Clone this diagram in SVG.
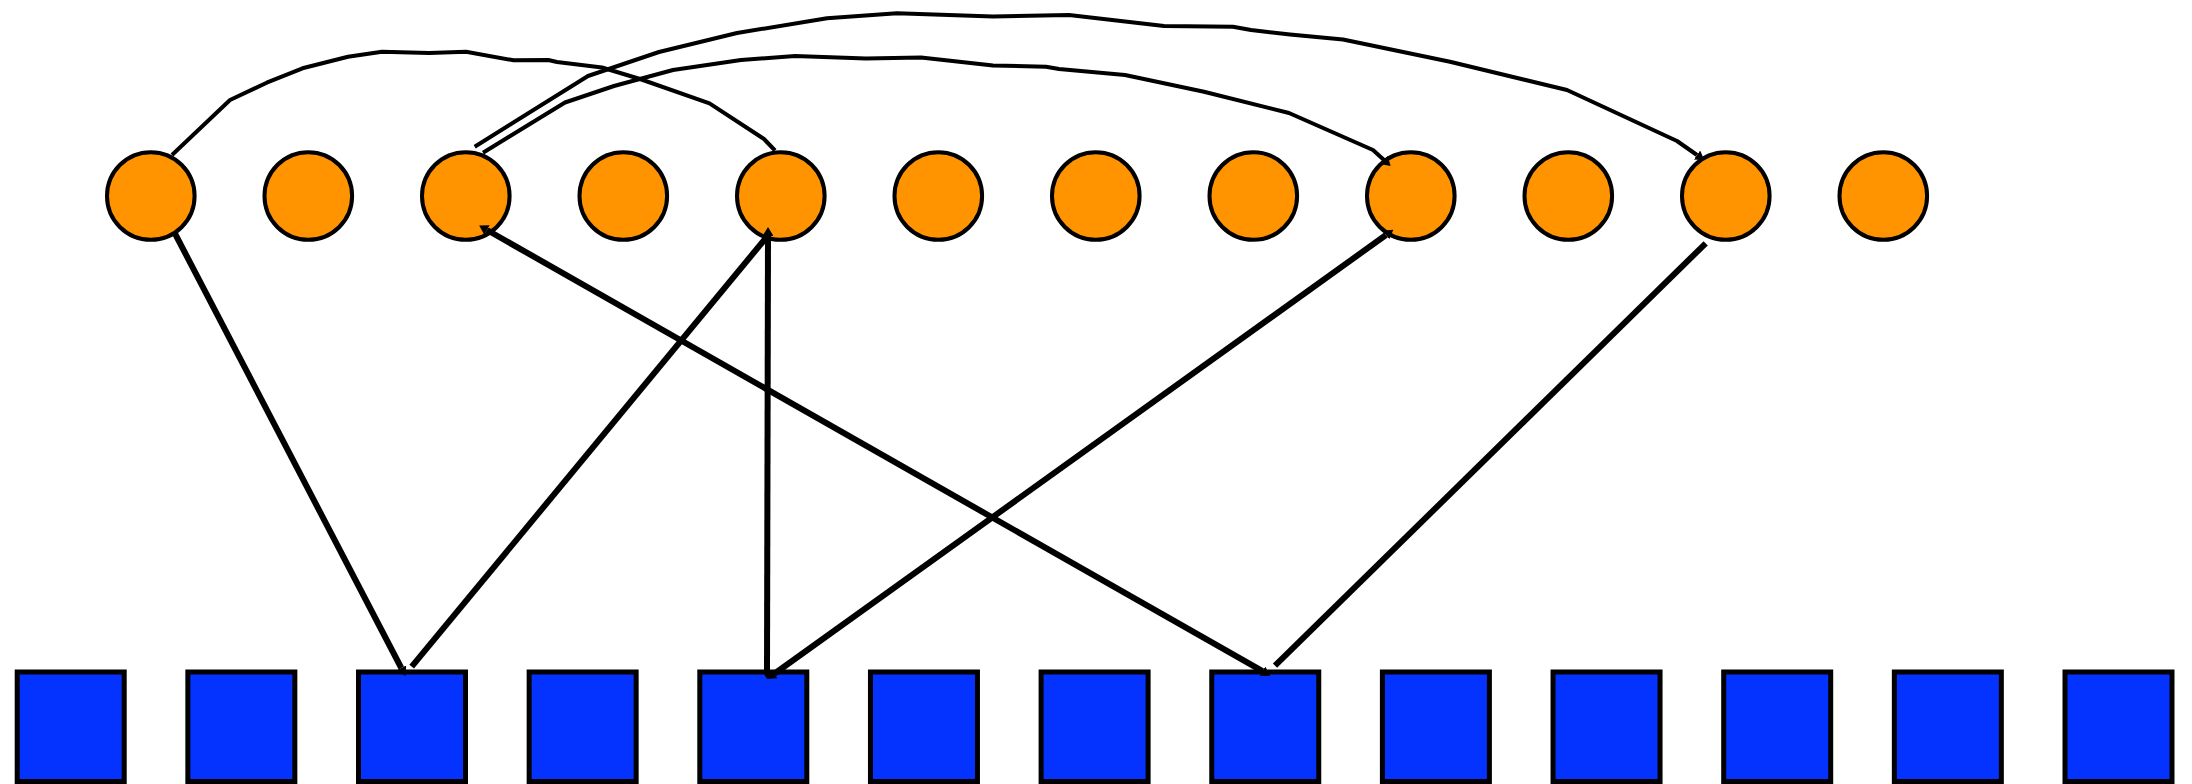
<svg xmlns="http://www.w3.org/2000/svg" width="2192" height="784" viewBox="0 0 2192 784">
  <style>
    .top { fill: #FF9300; stroke: #000; stroke-width: 4; }
    .bottom { fill: #0433FF; stroke: #000; stroke-width: 5; }
    .arc { fill: none; stroke: #000; stroke-width: 4; stroke-linejoin: round; }
    .link { fill: none; stroke: #000; stroke-width: 6; }
    .head-end { marker-end: url(#tip); }
    .head-start { marker-start: url(#tip); }
  </style>
  <defs>
    <marker id="tip" markerUnits="userSpaceOnUse" markerWidth="11" markerHeight="11" refX="0" refY="5.5" orient="auto-start-reverse">
      <path d="M0,0 L9,5.5 L0,11 z" fill="#000"/>
    </marker>
  </defs>
  <rect width="2192" height="784" fill="#fff"/>

  <!-- upper row: round nodes -->
  <g id="c1"><circle class="top" cx="150.8" cy="196" r="43.8"/></g>
  <g id="c2"><circle class="top" cx="308.3" cy="196" r="43.8"/></g>
  <g id="c3"><circle class="top" cx="465.8" cy="196" r="43.8"/></g>
  <g id="c4"><circle class="top" cx="623.3" cy="196" r="43.8"/></g>
  <g id="c5"><circle class="top" cx="780.8" cy="196" r="43.8"/></g>
  <g id="c6"><circle class="top" cx="938.3" cy="196" r="43.8"/></g>
  <g id="c7"><circle class="top" cx="1095.8" cy="196" r="43.8"/></g>
  <g id="c8"><circle class="top" cx="1253.3" cy="196" r="43.8"/></g>
  <g id="c9"><circle class="top" cx="1410.8" cy="196" r="43.8"/></g>
  <g id="c10"><circle class="top" cx="1568.3" cy="196" r="43.8"/></g>
  <g id="c11"><circle class="top" cx="1725.8" cy="196" r="43.8"/></g>
  <g id="c12"><circle class="top" cx="1883.3" cy="196" r="43.8"/></g>

  <!-- lower row: square nodes -->
  <g id="s1"><rect class="bottom" x="17.2" y="672" width="107" height="109.5"/></g>
  <g id="s2"><rect class="bottom" x="187.85" y="672" width="107" height="109.5"/></g>
  <g id="s3"><rect class="bottom" x="358.5" y="672" width="107" height="109.5"/></g>
  <g id="s4"><rect class="bottom" x="529.15" y="672" width="107" height="109.5"/></g>
  <g id="s5"><rect class="bottom" x="699.8" y="672" width="107" height="109.5"/></g>
  <g id="s6"><rect class="bottom" x="870.45" y="672" width="107" height="109.5"/></g>
  <g id="s7"><rect class="bottom" x="1041.1" y="672" width="107" height="109.5"/></g>
  <g id="s8"><rect class="bottom" x="1211.75" y="672" width="107" height="109.5"/></g>
  <g id="s9"><rect class="bottom" x="1382.4" y="672" width="107" height="109.5"/></g>
  <g id="s10"><rect class="bottom" x="1553.05" y="672" width="107" height="109.5"/></g>
  <g id="s11"><rect class="bottom" x="1723.7" y="672" width="107" height="109.5"/></g>
  <g id="s12"><rect class="bottom" x="1894.35" y="672" width="107" height="109.5"/></g>
  <g id="s13"><rect class="bottom" x="2065" y="672" width="107" height="109.5"/></g>

  <g id="connectors">
    <!-- arcs over the top row -->
    <polyline class="arc" points="172,155 230,100 266.7,82.7 302.5,68.3 348,56.7 382,51.7 429,53 466,51.7 513.5,60.3 548.3,60 557,62 602,67.5 640,79 709.5,103.3 764,139 775,150.5"/>
    <polyline class="arc head-end" points="483,152.7 565,102.5 614,86 673,70 741,60 795,56 866,58.5 921,57.5 993,65.5 1046,66.7 1059,69 1125,75 1204,91.7 1289,113 1373,150 1384,160"/>
    <polyline class="arc head-end" points="474.7,146.7 588,76 659,52 737,33 827,18.3 897,13.3 993,16.5 1069,15 1164,26 1233,26.7 1251,30 1290,34.5 1343,39.5 1450,61.7 1567,90 1677,141 1697,155"/>

    <!-- links from the top row down to the squares -->
    <line class="link head-end" x1="174.7" y1="233" x2="401.3" y2="668"/>
    <line class="link" x1="770" y1="233" x2="411.7" y2="666.7"/>
    <line class="link head-start head-end" x1="768" y1="236" x2="767" y2="670"/>
    <line class="link head-start head-end" x1="487" y1="230" x2="1262.5" y2="671.2"/>
    <line class="link head-start head-end" x1="1386" y1="235" x2="774.3" y2="673.8"/>
    <line class="link" x1="1705.7" y1="243.3" x2="1275" y2="665.7"/>
  </g>
</svg>
